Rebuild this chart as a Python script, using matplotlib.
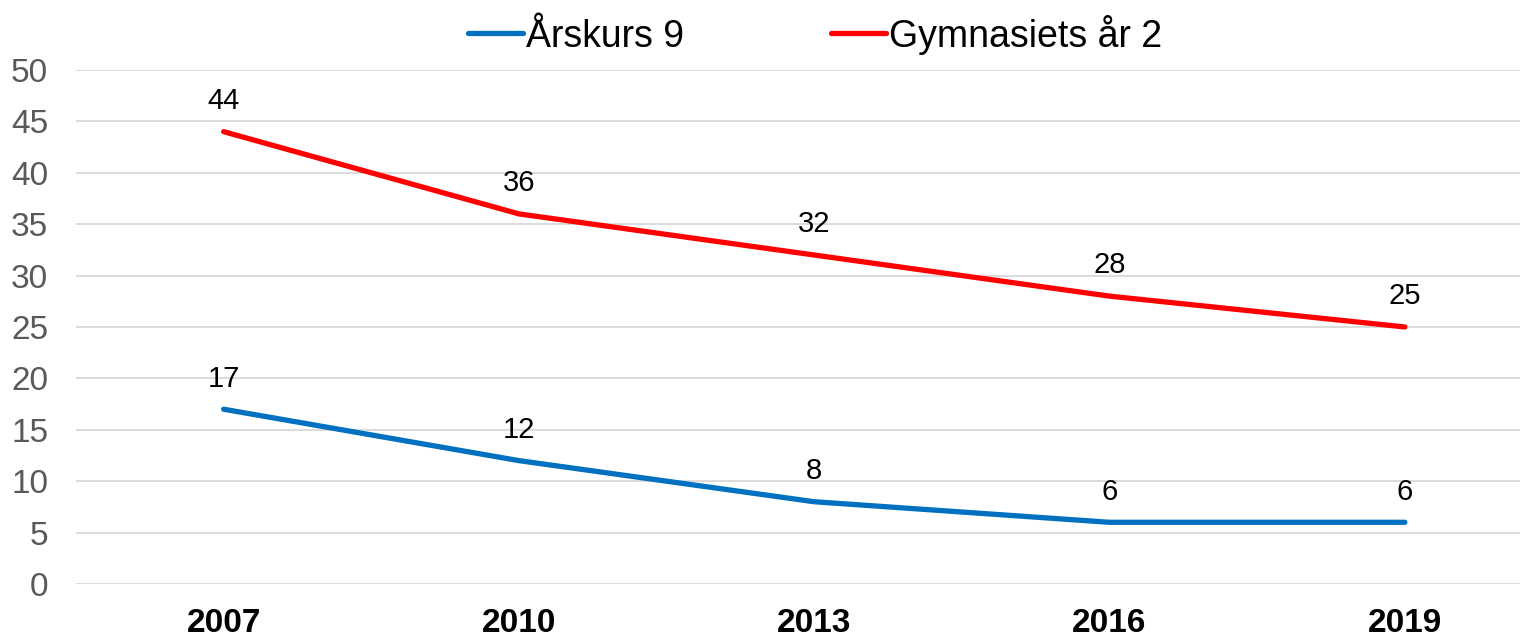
import matplotlib.pyplot as plt

plt.rcParams['font.family'] = ['Liberation Sans', 'DejaVu Sans']

# Data
years = ['2007', '2010', '2013', '2016', '2019']
arskurs9 = [17, 12, 8, 6, 6]
gymnasiet2 = [44, 36, 32, 28, 25]

fig = plt.figure(figsize=(15.38, 6.39), dpi=100)
ax = fig.add_axes([0.0494, 0.0861, 0.9389, 0.8044])

x = range(len(years))
ax.plot(x, arskurs9, color='#0070C0', linewidth=3.8, label='Årskurs 9', solid_capstyle='round')
ax.plot(x, gymnasiet2, color='#FF0000', linewidth=3.8, label='Gymnasiets år 2', solid_capstyle='round')

# Data labels above the points
for xi, v in zip(x, arskurs9):
    ax.annotate(str(v), (xi, v), xytext=(0, 12), textcoords='offset points',
                ha='center', va='bottom', fontsize=21, color='black')
for xi, v in zip(x, gymnasiet2):
    ax.annotate(str(v), (xi, v), xytext=(0, 12), textcoords='offset points',
                ha='center', va='bottom', fontsize=21, color='black')

ax.set_ylim(0, 50)
ax.set_yticks(range(0, 51, 5))
ax.set_xlim(-0.5, 4.39)
ax.set_xticks(list(x))
ax.set_xticklabels(years, fontsize=24, fontweight='bold')
ax.tick_params(axis='y', labelsize=24, labelcolor='#595959', length=0, pad=20)
ax.tick_params(axis='x', length=0, pad=17)

ax.grid(axis='y', color='#D9D9D9', linewidth=1.3)
ax.set_axisbelow(True)
for s in ax.spines.values():
    s.set_visible(False)

fig.legend(loc='center', bbox_to_anchor=(0.53, 0.946), ncol=2, frameon=False,
           fontsize=27, handlelength=1.47, handletextpad=0.08, columnspacing=3.9)

plt.savefig('out.png', dpi=100)
